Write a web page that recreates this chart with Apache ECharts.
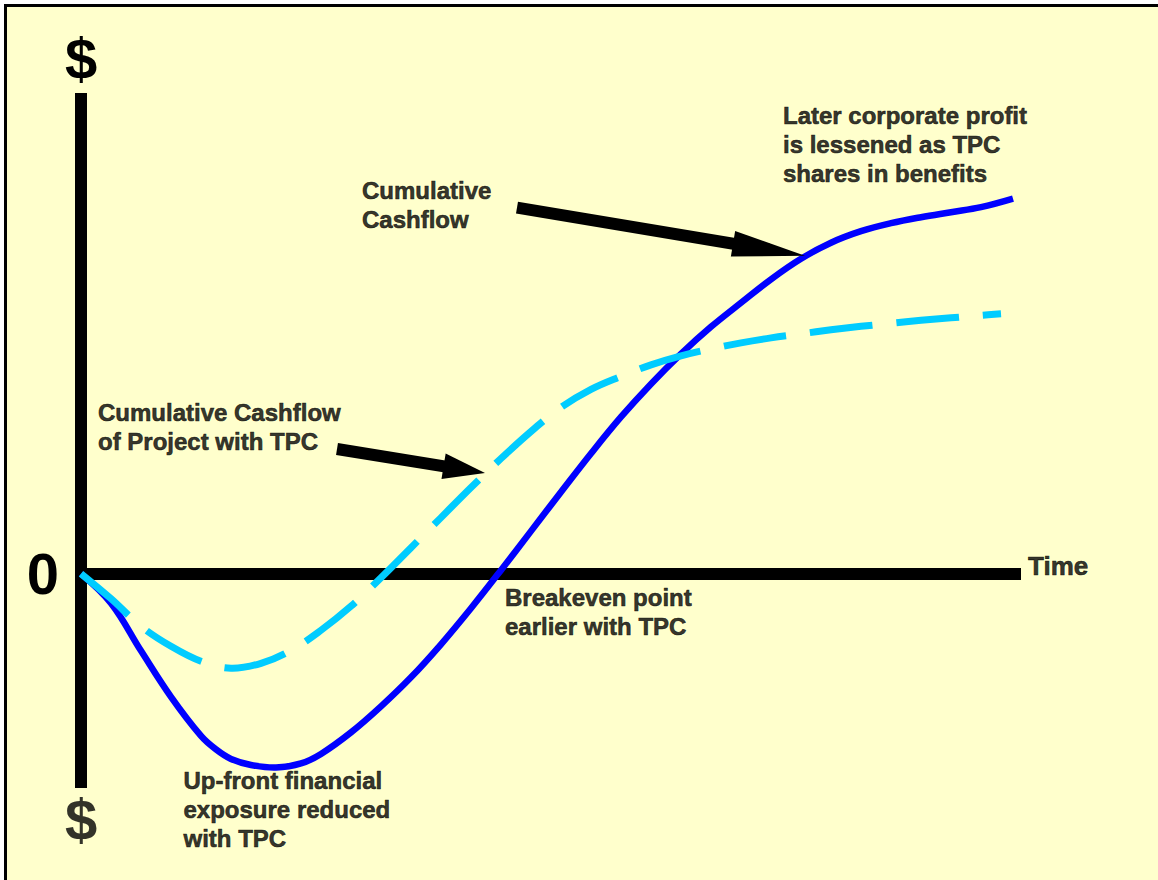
<!DOCTYPE html>
<html>
<head>
<meta charset="utf-8">
<script src="https://cdn.jsdelivr.net/npm/echarts@6/dist/echarts.min.js"></script>
<style>
html, body { margin: 0; padding: 0; background: #fff; }
#frame { position: absolute; left: 4px; top: 4px; width: 1154px; height: 876px; box-sizing: border-box;
  border-left: 3px solid #000; border-top: 3px solid #000; background: #ffffcc; }
#main { position: absolute; left: 0; top: 0; width: 1158px; height: 880px; }
</style>
</head>
<body>
<div id="frame"></div>
<div id="main"></div>
<script>
// time axis runs 0..94, money axis -21.4..48
var baseTime = [0, 3, 6, 9, 12, 13.5, 15, 17, 19.5, 22, 24, 27, 30, 33, 36, 39, 42, 45, 48, 51, 54, 57, 60, 63, 66, 69, 72, 75, 78, 81, 84, 87, 90, 93.2];
var baseCash = [0, -2.95, -7.7, -12.3, -16.2, -17.55, -18.5, -19.1, -19.35, -18.95, -18.0, -15.85, -13.25, -10.35, -7.05, -3.45, 0.35, 4.25, 8.15, 12.0, 15.65, 18.95, 21.95, 24.65, 27.05, 29.4, 31.45, 33.05, 34.2, 35.0, 35.6, 36.1, 36.6, 37.45];

var tpcTime = [0, 3, 6, 9, 12, 15, 18, 21, 24, 27, 30, 33, 36, 39, 42, 45, 48, 51, 54, 57, 60, 63, 66, 69, 72, 75, 78, 81, 84, 87, 90, 92];
var tpcCash = [0, -2.5, -5.25, -7.25, -8.75, -9.45, -8.95, -7.65, -5.65, -3.25, -0.4, 2.6, 5.6, 8.6, 11.5, 14.2, 16.6, 18.4, 19.7, 20.85, 21.75, 22.45, 23.05, 23.55, 23.95, 24.35, 24.7, 25.0, 25.3, 25.55, 25.8, 25.95];

// arrows: tail -> head centre, head size [base, length]
var arrowFrom = [[43.6, 36.55], [25.6, 12.45]];
var arrowTo = [[68.8, 32.35], [38.33, 10.39]];
var arrowHead = [[26, 73], [26, 42]];

var noteText = [
  'Later corporate profit\nis lessened as TPC\nshares in benefits',
  'Cumulative\nCashflow',
  'Cumulative Cashflow\nof Project with TPC',
  'Breakeven point\nearlier with TPC',
  'Up-front financial\nexposure reduced\nwith TPC'
];
var noteX = [70.2, 28.1, 1.7, 42.4, 10.25];
var noteY = [47.25, 39.75, 17.55, -0.95, -19.25];

var FONT = '"Liberation Sans", Arial, sans-serif';

function pairs(xs, ys) {
  var out = [];
  for (var i = 0; i < xs.length; i++) out.push([xs[i], ys[i]]);
  return out;
}

// one smooth curve through all points of a series (plain bezier smoothing, no clamping)
function curveSeries(name, xs, ys, lineStyle, z) {
  return {
    name: name,
    type: 'custom',
    data: pairs(xs, ys),
    silent: true,
    z: z,
    encode: { x: 0, y: 1 },
    renderItem: function (params, api) {
      if (params.dataIndex !== 0) return null;
      var pts = [];
      for (var k = 0; k < xs.length; k++) pts.push(api.coord([xs[k], ys[k]]));
      return {
        type: 'polyline',
        shape: { points: pts, smooth: 0.38 },
        style: lineStyle
      };
    }
  };
}

var arrowLines = [];
for (var i = 0; i < arrowFrom.length; i++) {
  arrowLines.push([
    { coord: arrowFrom[i], symbol: 'none' },
    { coord: arrowTo[i], symbol: 'triangle', symbolSize: arrowHead[i] }
  ]);
}

var notes = [];
for (var j = 0; j < noteText.length; j++) {
  notes.push({ value: [noteX[j], noteY[j]], label: { formatter: noteText[j] } });
}
// axis words
notes.push({
  value: [94.7, 0.8],
  label: { formatter: 'Time', verticalAlign: 'middle', fontSize: 26, lineHeight: 30 }
});
notes.push({
  value: [0, -24.55],
  label: { formatter: '$', position: 'inside', align: 'center', verticalAlign: 'middle', fontSize: 58, lineHeight: 58, textBorderWidth: 0 }
});

var myChart = echarts.init(document.getElementById('main'), null, { renderer: 'svg' });
var option = {
  animation: false,
  backgroundColor: 'transparent',
  grid: { left: 81, right: 137, top: 93, bottom: 92 },
  xAxis: {
    type: 'value',
    min: 0,
    max: 94,
    axisLine: { show: true, onZero: true, lineStyle: { color: '#000', width: 12, cap: 'butt' } },
    axisTick: { show: false },
    axisLabel: { show: false },
    splitLine: { show: false }
  },
  yAxis: {
    type: 'value',
    min: -21.4,
    max: 48,
    name: '$',
    nameLocation: 'end',
    nameGap: 6,
    nameTextStyle: { fontSize: 58, fontWeight: 'bold', color: '#000', fontFamily: FONT, lineHeight: 58 },
    axisLine: { show: true, lineStyle: { color: '#000', width: 12, cap: 'butt' } },
    axisTick: { show: false },
    axisLabel: {
      show: true,
      showMinLabel: false,
      showMaxLabel: false,
      margin: 22,
      fontSize: 58,
      fontWeight: 'bold',
      color: '#000',
      fontFamily: FONT,
      formatter: function (v) { return v === 0 ? '0' : ''; }
    },
    splitLine: { show: false }
  },
  series: [
    curveSeries('Cumulative Cashflow', baseTime, baseCash,
      { stroke: '#0000ff', lineWidth: 6.5, fill: null }, 3),
    curveSeries('Cumulative Cashflow of Project with TPC', tpcTime, tpcCash,
      { stroke: '#00ccff', lineWidth: 7, fill: null, lineDash: [63, 24], lineCap: 'butt' }, 4),
    {
      type: 'line',
      data: [],
      z: 5,
      markLine: {
        silent: true,
        animation: false,
        label: { show: false },
        lineStyle: { color: '#000', width: 12, type: 'solid', cap: 'butt' },
        itemStyle: { color: '#000' },
        data: arrowLines
      }
    },
    {
      type: 'scatter',
      data: notes,
      symbolSize: 0,
      clip: false,
      silent: true,
      z: 6,
      label: {
        show: true,
        position: [0, 0],
        align: 'left',
        verticalAlign: 'top',
        fontSize: 24,
        lineHeight: 29,
        fontWeight: 'bold',
        color: '#000',
        textBorderColor: '#000',
        textBorderWidth: 0.6,
        fontFamily: FONT
      }
    }
  ]
};
myChart.setOption(option);
</script>
</body>
</html>
